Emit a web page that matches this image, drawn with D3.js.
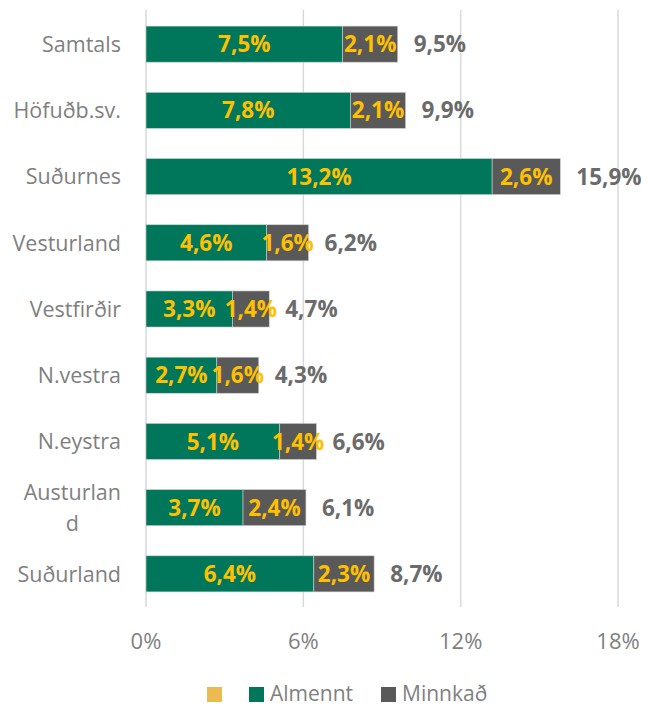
<!DOCTYPE html>
<html>
<head>
<meta charset="utf-8">
<script src="https://cdn.jsdelivr.net/npm/d3@7"></script>
<style>
  body { margin: 0; background: #fff; }
  svg { display: block; font-family: "Open Sans", "Noto Sans", sans-serif; }
</style>
</head>
<body>
<div id="container"></div>
<script>
var regions = ["Samtals", "Höfuðb.sv.", "Suðurnes", "Vesturland", "Vestfirðir", "N.vestra", "N.eystra", "Austurlan\nd", "Suðurland"];
var almennt = [7.5, 7.8, 13.2, 4.6, 3.3, 2.7, 5.1, 3.7, 6.4];
var minnkad = [2.1, 2.1, 2.6, 1.6, 1.4, 1.6, 1.4, 2.4, 2.3];
var totals = [9.5, 9.9, 15.9, 6.2, 4.7, 4.3, 6.6, 6.1, 8.7];
var ticks = [0, 6, 12, 18];
var legendNames = ["", "Almennt", "Minnkað"];

var width = 648, height = 708;
var margin = { top: 11, right: 30, bottom: 101, left: 146 };

var svg = d3.select("#container").append("svg")
  .attr("width", width).attr("height", height);

var x = d3.scaleLinear().domain([0, 18]).range([margin.left, margin.left + 472]);
var y = d3.scaleBand().domain(regions).range([margin.top, height - margin.bottom]).paddingInner(0.455).paddingOuter(0.228);

var colors = { yellow: "#EBBA50", green: "#00775B", grey: "#595959" };
var fmt = function(v) { return v.toFixed(1).replace(".", ",") + "%"; };

// gridlines
svg.append("g").selectAll("line").data(ticks).join("line")
  .attr("x1", d => x(d)).attr("x2", d => x(d))
  .attr("y1", margin.top - 1).attr("y2", height - margin.bottom)
  .attr("stroke", "#d9d9d9").attr("stroke-width", 1.5);

// tick labels
svg.append("g").selectAll("text").data(ticks).join("text")
  .attr("x", d => x(d)).attr("y", 641).attr("dy", "0.36em")
  .attr("text-anchor", "middle")
  .attr("font-size", 22).attr("fill", "#7f7f7f")
  .text(d => d + "%");

var rows = regions.map((r, i) => ({ region: r, a: almennt[i], m: minnkad[i], t: totals[i] }));

var bars = svg.append("g");
bars.selectAll("rect.a").data(rows).join("rect").attr("class", "a")
  .attr("x", x(0)).attr("y", d => y(d.region))
  .attr("width", d => x(d.a) - x(0)).attr("height", y.bandwidth())
  .attr("fill", colors.green).attr("stroke", "#d0d0d0").attr("stroke-width", 0.6);
bars.selectAll("rect.m").data(rows).join("rect").attr("class", "m")
  .attr("x", d => x(d.a)).attr("y", d => y(d.region))
  .attr("width", d => x(d.a + d.m) - x(d.a)).attr("height", y.bandwidth())
  .attr("fill", colors.grey).attr("stroke", "#d0d0d0").attr("stroke-width", 0.6);

var labels = svg.append("g").attr("font-weight", "bold");
labels.selectAll("text.a").data(rows).join("text").attr("class", "a")
  .attr("x", d => (x(0) + x(d.a)) / 2).attr("y", d => y(d.region) + y.bandwidth() / 2)
  .attr("dy", "0.36em").attr("text-anchor", "middle").attr("fill", "#FFC000")
  .attr("font-size", 22.5)
  .text(d => fmt(d.a));
labels.selectAll("text.m").data(rows).join("text").attr("class", "m")
  .attr("x", d => (x(d.a) + x(d.a + d.m)) / 2).attr("y", d => y(d.region) + y.bandwidth() / 2)
  .attr("dy", "0.36em").attr("text-anchor", "middle").attr("fill", "#FFC000")
  .attr("font-size", 22.5)
  .text(d => fmt(d.m));
labels.selectAll("text.t").data(rows).join("text").attr("class", "t")
  .attr("x", d => x(d.a + d.m) + 16).attr("y", d => y(d.region) + y.bandwidth() / 2)
  .attr("dy", "0.36em").attr("fill", "#6b6b6b")
  .attr("font-size", 22.5)
  .text(d => fmt(d.t));

// category labels (wrapped ones are centred like Excel does)
var cat = svg.append("g").attr("font-size", 21.5).attr("fill", "#7f7f7f");
regions.forEach(function(r) {
  var lines = r.split("\n");
  var cy = y(r) + y.bandwidth() / 2;
  var t = cat.append("text");
  if (lines.length == 1) {
    t.attr("x", 121).attr("y", cy).attr("dy", "0.36em").attr("text-anchor", "end").text(r);
  } else {
    var lh = 31;
    lines.forEach(function(l, j) {
      t.append("tspan").attr("y", cy + (j - (lines.length - 1) / 2) * lh).attr("dy", "0.36em").text(l);
    });
    var w = d3.max(t.selectAll("tspan").nodes(), n => n.getComputedTextLength());
    t.attr("text-anchor", "middle").selectAll("tspan").attr("x", 121 - w / 2);
  }
});

// legend
var legendItems = [
  { name: legendNames[0], color: colors.yellow, x: 207 },
  { name: legendNames[1], color: colors.green, x: 249 },
  { name: legendNames[2], color: colors.grey, x: 381 }
];
var lg = svg.append("g");
lg.selectAll("rect").data(legendItems).join("rect")
  .attr("x", d => d.x).attr("y", 687).attr("width", 15).attr("height", 15)
  .attr("fill", d => d.color);
lg.selectAll("text").data(legendItems).join("text")
  .attr("x", d => d.x + 21).attr("y", 693.5).attr("dy", "0.35em")
  .attr("font-size", 21).attr("fill", "#7f7f7f")
  .text(d => d.name);
</script>
</body>
</html>
